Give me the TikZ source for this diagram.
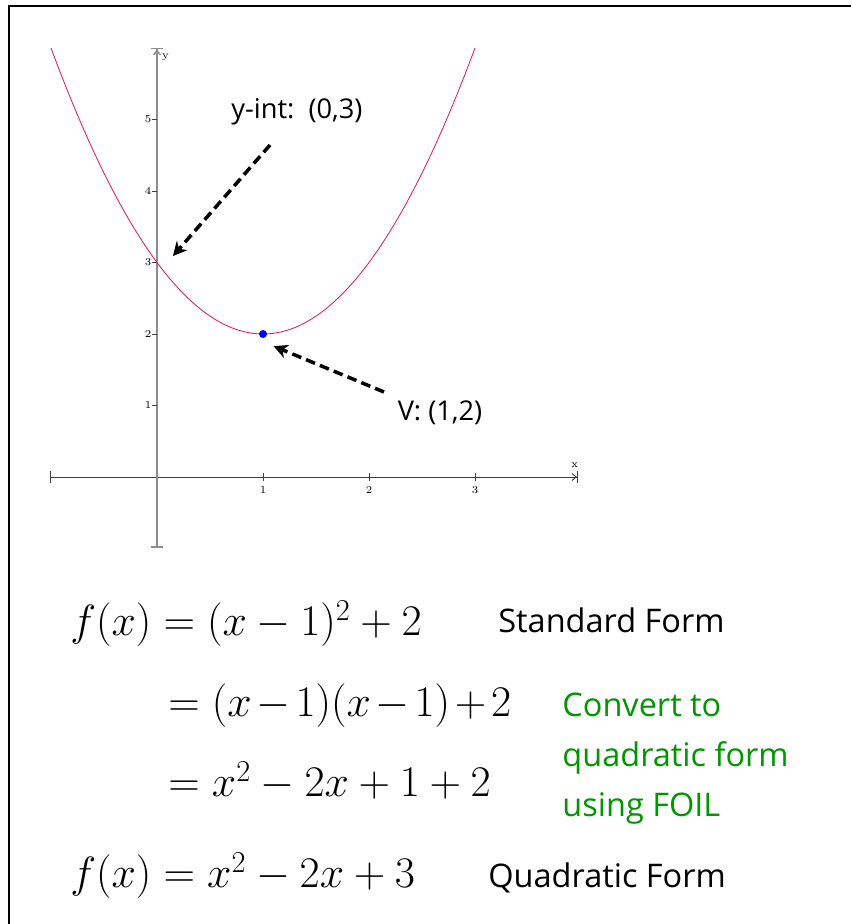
\documentclass[tikz,border=0pt]{standalone}
\usepackage{amsmath}
\usepackage{fontspec}
\usepackage{xcolor}
\usetikzlibrary{arrows.meta}
\newfontfamily\notefont{Open Sans}
\definecolor{curvered}{RGB}{214,40,96}
\definecolor{notegreen}{RGB}{0,150,0}
\tikzset{
  axis/.style={black!75,line width=0.5pt},
  ticklabel/.style={font=\fontsize{6}{7}\selectfont,inner sep=0pt},
  callout/.style={line width=2pt,dash pattern=on 5.5pt off 3pt,-{Stealth[length=8pt,width=8pt]}},
  note/.style={font=\notefont\fontsize{15.5}{18}\selectfont,inner sep=0pt},
  form/.style={font=\notefont\fontsize{18.5}{22}\selectfont,anchor=base west,inner sep=0pt},
  eqn/.style={font=\fontsize{26}{30}\selectfont,anchor=base west,inner sep=0pt}
}

\begin{document}
\begin{tikzpicture}
\useasboundingbox (0,0) rectangle (17.02,18.48);
\draw[line width=1.6pt] (0.18,0) -- (0.18,18.36) -- (17.02,18.36);

% graph of the parabola
\begin{scope}[shift={(3.14,8.94)},x=2.12cm,y=1.43cm]
\draw[axis,{Bar[width=7pt]}-{Straight Barb[length=2.5pt,width=4pt] Bar[width=7pt]}] (-1.01,0) -- (3.97,0);
\draw[black!45,line width=0.8pt,{Bar[width=7pt]}-{Straight Barb[length=2.5pt,width=4pt] Bar[width=7pt]}] (0,-0.99) -- (0,6);
\foreach \i in {1,2,3} {
  \draw[axis] (\i,-0.05) -- (\i,0.05);
  \node[ticklabel] (xt\i) at (\i,-0.18) {\i};
}
\foreach \j in {1,...,5} {
  \draw[axis] (-0.05,\j) -- (0,\j);
  \node[ticklabel] (yt\j) at (-0.085,\j) {\j};
}
\node[ticklabel] (xlab) at (3.94,0.17) {x};
\node[ticklabel] (ylab) at (0.08,5.87) {y};
\draw[curvered,line width=0.5pt,domain=-1:3,samples=80] plot (\x,{(\x-1)^2+2});
\node[circle,fill=blue,inner sep=0pt,minimum size=0.16cm] (vertex) at (1,2) {};
\coordinate (yintTip) at (0.15,3.09);
\coordinate (vertTip) at (1.10,1.83);
\end{scope}

\node[note] (yintlab) at (5.94,16.24) {y-int:\ \ (0,3)};
\node[note] (vlab) at (8.80,10.22) {V: (1,2)};
\coordinate (yintTail) at (5.40,15.58);
\coordinate (vertTail) at (7.68,10.64);
\draw[callout] (yintTail) -- (yintTip);
\draw[callout] (vertTail) -- (vertTip);

% the forms
\node[eqn] (eq1) at (1.40,5.76) {$f(x)=(x-1)^2+2$};
\node[form] (stdform) at (9.96,5.82) {Standard Form};
\node[eqn] (eq2) at (3.36,4.14) {$\medmuskip=2mu =(x-1)(x-1)+2$};
\node[eqn] (eq3) at (3.36,2.54) {$=x^2-2x+1+2$};
\node[eqn] (eq4) at (1.40,0.72) {$f(x)=x^2-2x+3$};
\node[form] (quadform) at (9.76,0.72) {Quadratic Form};
\node[form,notegreen] (conv1) at (11.24,4.14) {Convert to};
\node[form,notegreen] (conv2) at (11.24,3.14) {quadratic form};
\node[form,notegreen] (conv3) at (11.24,2.14) {using FOIL};
\end{tikzpicture}
\end{document}
